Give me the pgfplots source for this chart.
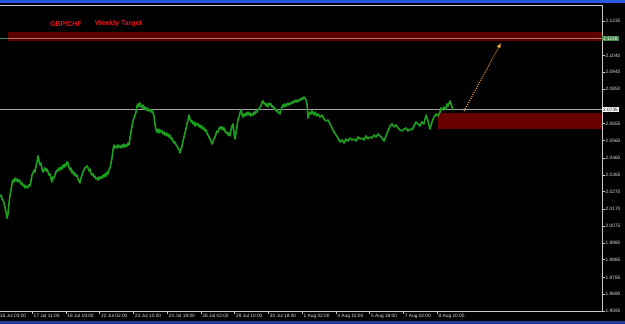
\documentclass[border=0pt]{standalone}
\usepackage{pgfplots}
\usepackage{pgfplotstable}
\pgfplotsset{compat=1.18}
\usetikzlibrary{arrows.meta}
\usepackage{fontspec}
\setmainfont{Liberation Sans}
\definecolor{topblue}{RGB}{40,90,220}
\definecolor{botblue}{RGB}{30,60,150}
\definecolor{axgrey}{RGB}{200,200,200}
\definecolor{lblgrey}{RGB}{225,225,225}
\definecolor{bandred}{RGB}{95,0,0}
\definecolor{bandredB}{RGB}{105,0,0}
\definecolor{serieg}{RGB}{30,160,30}
\definecolor{titlered}{RGB}{225,25,25}
\definecolor{arroworange}{RGB}{240,160,60}
\definecolor{boxgreen}{RGB}{70,140,70}
\definecolor{pricegrey}{RGB}{165,165,165}
\definecolor{targetline}{RGB}{175,120,105}
\definecolor{teal}{RGB}{40,140,110}

\pgfplotstableread{
x p
0 2.0240
1 2.0251
2 2.0228
3 2.0223
4 2.0206
5 2.0183
6 2.0155
7 2.0120
8 2.0144
9 2.0206
10 2.0251
11 2.0279
12 2.0313
13 2.0336
14 2.0325
15 2.0347
16 2.0330
17 2.0342
18 2.0325
19 2.0336
20 2.0330
21 2.0313
22 2.0319
23 2.0302
24 2.0308
25 2.0291
26 2.0302
27 2.0291
28 2.0296
29 2.0308
30 2.0302
31 2.0330
32 2.0364
33 2.0375
34 2.0392
35 2.0381
36 2.0415
37 2.0438
38 2.0472
39 2.0443
40 2.0421
41 2.0432
42 2.0398
43 2.0381
44 2.0392
45 2.0404
46 2.0387
47 2.0398
48 2.0381
49 2.0364
50 2.0370
51 2.0342
52 2.0325
53 2.0353
54 2.0347
55 2.0364
56 2.0381
57 2.0392
58 2.0387
59 2.0404
60 2.0392
61 2.0409
62 2.0398
63 2.0421
64 2.0409
65 2.0426
66 2.0415
67 2.0438
68 2.0432
69 2.0409
70 2.0392
71 2.0404
72 2.0375
73 2.0387
74 2.0364
75 2.0375
76 2.0358
77 2.0364
78 2.0342
79 2.0330
80 2.0319
81 2.0347
82 2.0364
83 2.0381
84 2.0392
85 2.0404
86 2.0409
87 2.0415
88 2.0404
89 2.0387
90 2.0398
91 2.0375
92 2.0364
93 2.0370
94 2.0353
95 2.0358
96 2.0342
97 2.0347
98 2.0336
99 2.0353
100 2.0342
101 2.0353
102 2.0347
103 2.0364
104 2.0353
105 2.0370
106 2.0358
107 2.0381
108 2.0370
109 2.0392
110 2.0404
111 2.0432
112 2.0460
113 2.0506
114 2.0534
115 2.0517
116 2.0528
117 2.0517
118 2.0534
119 2.0522
120 2.0528
121 2.0517
122 2.0534
123 2.0522
124 2.0539
125 2.0522
126 2.0534
127 2.0528
128 2.0545
129 2.0534
130 2.0573
131 2.0607
132 2.0641
133 2.0670
134 2.0686
135 2.0703
136 2.0720
137 2.0754
138 2.0766
139 2.0749
140 2.0771
141 2.0754
142 2.0743
143 2.0760
144 2.0737
145 2.0749
146 2.0732
147 2.0743
148 2.0726
149 2.0737
150 2.0732
151 2.0720
152 2.0732
153 2.0715
154 2.0698
155 2.0653
156 2.0619
157 2.0607
158 2.0624
159 2.0602
160 2.0619
161 2.0607
162 2.0613
163 2.0596
164 2.0607
165 2.0590
166 2.0602
167 2.0585
168 2.0596
169 2.0579
170 2.0590
171 2.0568
172 2.0573
173 2.0556
174 2.0545
175 2.0551
176 2.0534
177 2.0528
178 2.0517
179 2.0506
180 2.0489
181 2.0511
182 2.0528
183 2.0556
184 2.0579
185 2.0602
186 2.0624
187 2.0653
188 2.0675
189 2.0703
190 2.0681
191 2.0664
192 2.0670
193 2.0653
194 2.0664
195 2.0641
196 2.0658
197 2.0647
198 2.0653
199 2.0636
200 2.0647
201 2.0630
202 2.0641
203 2.0624
204 2.0630
205 2.0613
206 2.0619
207 2.0602
208 2.0590
209 2.0579
210 2.0568
211 2.0556
212 2.0539
213 2.0551
214 2.0568
215 2.0579
216 2.0596
217 2.0613
218 2.0607
219 2.0624
220 2.0636
221 2.0624
222 2.0636
223 2.0619
224 2.0630
225 2.0613
226 2.0602
227 2.0607
228 2.0590
229 2.0602
230 2.0585
231 2.0619
232 2.0641
233 2.0653
234 2.0607
235 2.0568
236 2.0602
237 2.0641
238 2.0675
239 2.0692
240 2.0715
241 2.0732
242 2.0709
243 2.0692
244 2.0709
245 2.0698
246 2.0715
247 2.0703
248 2.0720
249 2.0703
250 2.0715
251 2.0698
252 2.0709
253 2.0703
254 2.0720
255 2.0709
256 2.0726
257 2.0720
258 2.0737
259 2.0732
260 2.0749
261 2.0754
262 2.0777
263 2.0783
264 2.0766
265 2.0771
266 2.0754
267 2.0766
268 2.0749
269 2.0771
270 2.0760
271 2.0766
272 2.0749
273 2.0754
274 2.0737
275 2.0743
276 2.0726
277 2.0732
278 2.0715
279 2.0720
280 2.0709
281 2.0732
282 2.0749
283 2.0760
284 2.0749
285 2.0766
286 2.0754
287 2.0760
288 2.0771
289 2.0760
290 2.0771
291 2.0766
292 2.0777
293 2.0771
294 2.0783
295 2.0777
296 2.0788
297 2.0777
298 2.0788
299 2.0783
300 2.0794
301 2.0788
302 2.0800
303 2.0794
304 2.0805
305 2.0800
306 2.0788
307 2.0766
308 2.0686
309 2.0709
310 2.0720
311 2.0709
312 2.0726
313 2.0715
314 2.0703
315 2.0720
316 2.0709
317 2.0698
318 2.0709
320 2.0692
322 2.0703
324 2.0681
326 2.0670
328 2.0675
330 2.0653
332 2.0630
334 2.0607
336 2.0590
338 2.0573
340 2.0551
342 2.0562
344 2.0545
346 2.0568
348 2.0556
350 2.0573
352 2.0562
354 2.0568
356 2.0556
358 2.0579
360 2.0568
362 2.0573
364 2.0562
366 2.0585
368 2.0568
370 2.0579
372 2.0573
374 2.0590
376 2.0579
378 2.0596
380 2.0585
382 2.0573
384 2.0556
386 2.0585
388 2.0613
390 2.0641
392 2.0653
394 2.0636
396 2.0647
398 2.0630
400 2.0619
402 2.0613
404 2.0624
406 2.0630
408 2.0613
410 2.0624
412 2.0619
414 2.0641
416 2.0664
418 2.0653
420 2.0641
422 2.0664
424 2.0653
426 2.0703
428 2.0670
430 2.0624
432 2.0664
434 2.0692
436 2.0709
438 2.0698
440 2.0720
441 2.0743
442 2.0732
444 2.0749
446 2.0737
447 2.0766
448 2.0754
450 2.0783
451 2.0766
452 2.0749
453 2.0732
}\pricedata

\begin{document}
\begin{tikzpicture}
\useasboundingbox (0pt,0pt) rectangle (625pt,324pt);
\clip (0pt,0pt) rectangle (625pt,324pt);
\fill[black] (0pt,0pt) rectangle (625pt,324pt);
\fill[topblue] (0pt,321pt) rectangle (625pt,324pt);
\fill[botblue] (0pt,0pt) rectangle (625pt,2.5pt);
\begin{axis}[
  at={(0pt,13pt)}, anchor=south west,
  scale only axis, width=602pt, height=306pt,
  xmin=0, xmax=602, ymin=1.9595, ymax=2.13255,
  axis x line*=box, axis y line*=right,
  axis line style={draw=axgrey, line width=0.7pt},
  axis background/.style={fill=black},
  clip mode=individual,
  xtick={32,65.75,99.5,133.25,167,200.75,234.5,268.25,302,335.75,369.5,403.25,437},
  xticklabels={17 Jul 11:00,18 Jul 19:00,22 Jul 02:00,23 Jul 10:00,24 Jul 18:00,28 Jul 02:00,29 Jul 10:00,30 Jul 18:00,1 Aug 02:00,4 Aug 10:00,5 Aug 18:00,7 Aug 02:00,8 Aug 10:00},
  ytick={2.1235,2.1040,2.0945,2.0850,2.0655,2.0560,2.0460,2.0365,2.0270,2.0170,2.0075,1.9980,1.9885,1.9785,1.9690,1.9595},
  yticklabels={2.1235,2.1040,2.0945,2.0850,2.0655,2.0560,2.0460,2.0365,2.0270,2.0170,2.0075,1.9980,1.9885,1.9785,1.9690,1.9595},
  xtick pos=left, ytick pos=right,
  tick align=outside, major tick length=3pt,
  tick style={draw=axgrey, line width=0.5pt},
  ticklabel style={font=\fontsize{4.8}{5}\selectfont, text=lblgrey},
  xticklabel style={anchor=north west, inner sep=0pt, xshift=1.5pt},
  yticklabel style={anchor=west, inner sep=0pt, xshift=0.5pt},
]
% top target band
\addplot[draw=none, fill=bandred] coordinates {(8,2.1122) (602,2.1122) (602,2.1173) (8,2.1173)} -- cycle;
\addplot[targetline, line width=0.7pt] coordinates {(8,2.1136) (602,2.1136)};
\addplot[teal, line width=0.7pt] coordinates {(0,2.1136) (8,2.1136)};
% current price line
\addplot[pricegrey, line width=0.7pt] coordinates {(0,2.0735) (602,2.0735)};
% lower zone
\addplot[draw=none, fill=bandredB] coordinates {(438,2.0624) (602,2.0624) (602,2.0715) (438,2.0715)} -- cycle;
% price series
\addplot[serieg, line width=1.6pt, line join=round] table[x=x, y=p] {\pricedata};
% projection arrow
\addplot[arroworange, line width=1.1pt, dash pattern=on 1pt off 1.3pt, -{Latex[length=5pt,width=4.5pt]}] coordinates {(464,2.0726) (501,2.1111)};
% first, partly hidden time label
\node[anchor=north west, inner sep=0pt, xshift=1.5pt, yshift=-3pt, font=\fontsize{4.8}{5}\selectfont, text=lblgrey] at (axis cs:-1.75,1.9595) {16 Jul 03:00};
% title
\node[anchor=west, inner sep=0pt, text=titlered, font=\fontsize{7}{8}\selectfont\bfseries] at (axis cs:50,2.1218) {GBP/CHF};
\node[anchor=west, inner sep=0pt, text=titlered, font=\fontsize{7}{8}\selectfont\bfseries] at (axis cs:95,2.1218) {Weekly Target};
% price boxes on the right scale
\node[anchor=west, fill=boxgreen, text=white, inner xsep=1pt, inner ysep=0.8pt, font=\fontsize{4.8}{5}\selectfont] at (axis cs:602,2.1136) {2.1136};
\node[anchor=west, fill=white, text=black, inner xsep=1pt, inner ysep=0.8pt, font=\fontsize{4.8}{5}\selectfont] at (axis cs:602,2.0735) {2.0735};
\end{axis}
\end{tikzpicture}
\end{document}
